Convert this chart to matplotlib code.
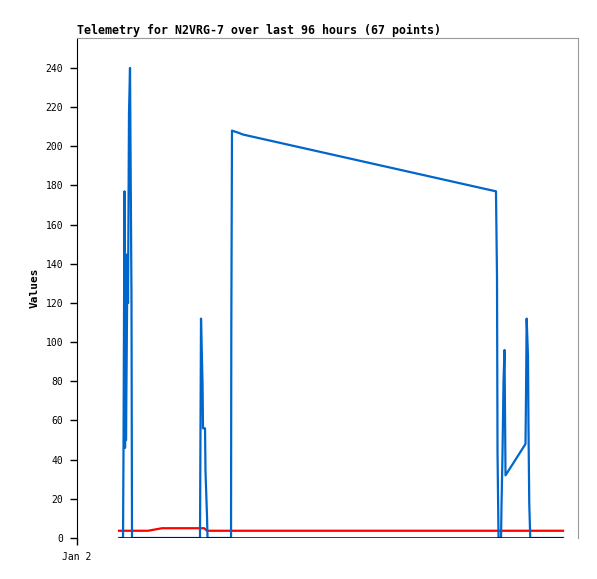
import matplotlib
matplotlib.use('Agg')
import matplotlib.pyplot as plt

# hours since Jan 2 00:00
blue_t = [9.08, 9.95, 10.05, 10.27, 10.38, 10.49, 10.59, 10.92, 11.03, 11.24, 11.46, 11.78, 11.89,
          26.59, 26.70, 26.81, 26.92, 27.14, 27.24, 27.35, 27.68, 27.78, 28.11, 28.22,
          33.30, 33.36, 33.51, 34.81, 35.89, 90.59, 90.81, 90.92, 91.14,
          91.68, 91.78, 92.00, 92.22, 92.43, 92.65, 96.97, 97.08, 97.22, 97.51, 97.62, 97.78, 98.00,
          105.08]
blue_v = [0, 0, 44, 177, 46, 133, 50, 145, 120, 217, 240, 121, 0,
          0, 56, 112, 101, 79, 56, 56, 56, 34, 11, 0,
          0, 105, 208, 207, 206, 177, 133, 44, 0,
          0, 16, 43, 80, 96, 32, 48, 72, 112, 93, 56, 18, 0,
          0]

red_t = [9.08, 15.35, 18.38, 27.5, 28.1, 105.08]
red_v = [3.7, 3.7, 5.0, 5.0, 3.7, 3.7]

black_t = [9.08, 105.08]
black_v = [0, 0]

fig = plt.figure(figsize=(5.97, 5.79), dpi=100)
ax = fig.add_axes([0.129, 0.0708, 0.839, 0.8636])

ax.plot(red_t, red_v, color='#ff0000', lw=1.6, zorder=2)
ax.plot(blue_t, blue_v, color='#0066cc', lw=1.6, zorder=3)
ax.plot(black_t, black_v, color='#000000', lw=1.8, zorder=4, solid_capstyle='butt')

ax.set_xlim(0, 108.3)
ax.set_ylim(0, 255.3)
ax.set_yticks(range(0, 241, 20))
ax.set_xticks([0])
ax.set_xticklabels(['Jan 2'])

mono = 'DejaVu Sans Mono'
for lab in ax.get_yticklabels() + ax.get_xticklabels():
    lab.set_family(mono)
    lab.set_fontsize(7)
ax.tick_params(axis='both', length=5, width=1, color='black', pad=5)

ax.spines['bottom'].set_visible(False)
ax.spines['left'].set_color('black')
ax.spines['top'].set_color('#999999')
ax.spines['right'].set_color('#999999')

ax.set_ylabel('Values', family=mono, fontweight='bold', fontsize=8, labelpad=4)
ax.set_title('Telemetry for N2VRG-7 over last 96 hours (67 points)', loc='left',
             family=mono, fontweight='bold', fontsize=8.4, pad=3)

fig.savefig('out.png', dpi=100)
